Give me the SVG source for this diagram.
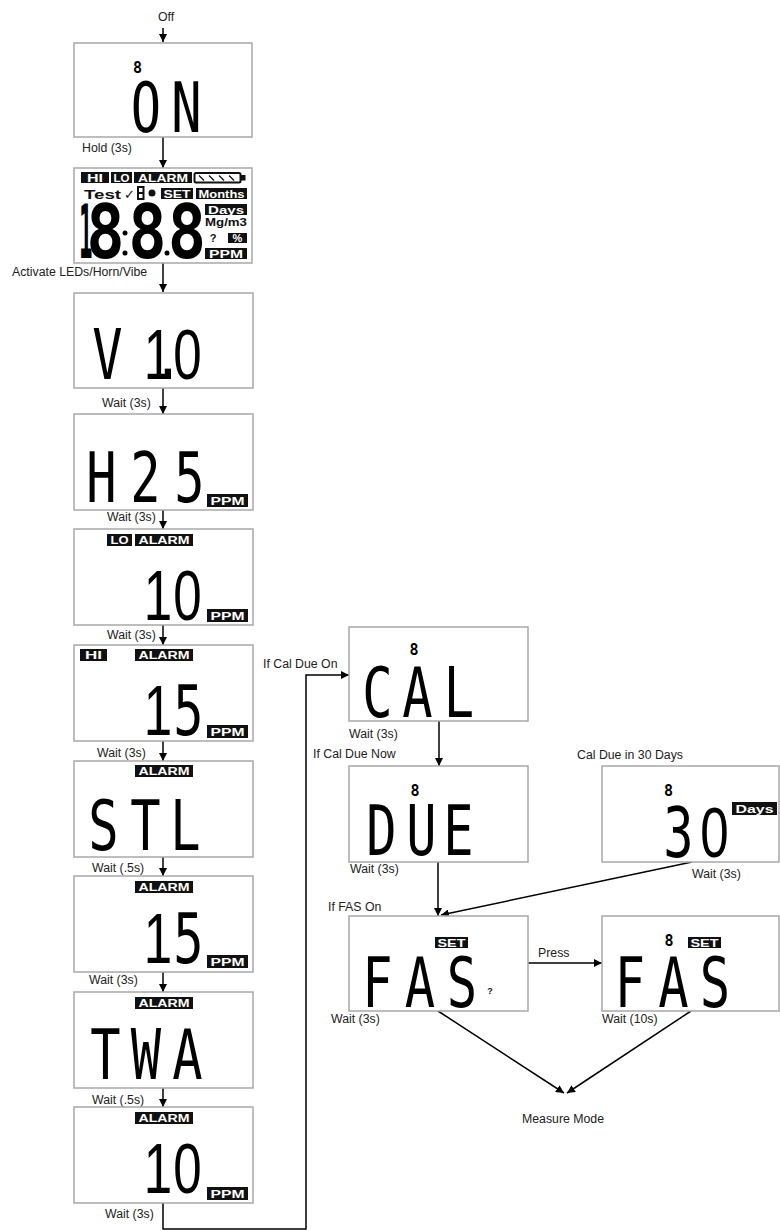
<svg xmlns="http://www.w3.org/2000/svg" width="780" height="1231" viewBox="0 0 780 1231">
<style>
.bg{fill:#fff}
.box{fill:#fff;stroke:#a8a8a8;stroke-width:1.5}
.lb{fill:#111}
.lt{font-family:"Liberation Sans",Arial,sans-serif;font-weight:bold;font-size:11px;fill:#fff;text-anchor:middle}
.bt{font-family:"Liberation Sans",Arial,sans-serif;font-weight:bold;fill:#111}
.cap{font-family:"Liberation Sans",Arial,sans-serif;font-size:12.3px;fill:#222}
.mid{text-anchor:middle}
.seg{font-family:"DejaVu Sans Mono",monospace;font-size:70px;fill:#000;text-anchor:middle}
.d{font-family:"Liberation Sans",Arial,sans-serif;font-size:71px}
.big{font-family:"DejaVu Sans Mono",monospace;font-weight:bold;font-size:75px;fill:#000;text-anchor:middle}
.ind{font-family:"DejaVu Sans Mono",monospace;font-weight:bold;font-size:15px;fill:#000;text-anchor:middle}
.edge{stroke:#000;stroke-width:1.5;fill:none;marker-end:url(#ah)}
</style>
<defs>
<marker id="ah" viewBox="0 0 8 8" refX="8" refY="4" markerWidth="8" markerHeight="8" markerUnits="userSpaceOnUse" orient="auto">
<path d="M0,0 L8,4 L0,8 z" fill="#000"/>
</marker>
</defs>
<rect class="bg" x="0" y="0" width="780" height="1231"/>

<g id="connectors">
<path class="edge" d="M163,28 V42"/>
<path class="edge" d="M163,137 V168"/>
<path class="edge" d="M163,263 V292"/>
<path class="edge" d="M163,388 V414"/>
<path class="edge" d="M163,510 V529"/>
<path class="edge" d="M163,625 V645"/>
<path class="edge" d="M163,741 V761"/>
<path class="edge" d="M163,857 V876"/>
<path class="edge" d="M163,972 V992"/>
<path class="edge" d="M163,1088 V1107"/>
<path class="edge" d="M163,1203 V1229 H306 V675 H349"/>
<path class="edge" d="M439,721 V766"/>
<path class="edge" d="M438,862 V916"/>
<path class="edge" d="M692,862 L441,915"/>
<path class="edge" d="M528,963 H602"/>
<path class="edge" d="M438,1011 L564,1093"/>
<path class="edge" d="M691,1011 L567,1093"/>
</g>

<g id="labels">
<text class="cap mid" x="166" y="21">Off</text>
<text class="cap" x="82" y="152">Hold (3s)</text>
<text class="cap" x="12" y="276">Activate LEDs/Horn/Vibe</text>
<text class="cap" x="102" y="407">Wait (3s)</text>
<text class="cap" x="107" y="521">Wait (3s)</text>
<text class="cap" x="107" y="639">Wait (3s)</text>
<text class="cap" x="97" y="757">Wait (3s)</text>
<text class="cap" x="92" y="872">Wait (.5s)</text>
<text class="cap" x="89" y="984">Wait (3s)</text>
<text class="cap" x="92" y="1104">Wait (.5s)</text>
<text class="cap" x="105" y="1218">Wait (3s)</text>
<text class="cap" x="263" y="668">If Cal Due On</text>
<text class="cap" x="349" y="738">Wait (3s)</text>
<text class="cap" x="313" y="758">If Cal Due Now</text>
<text class="cap mid" x="630" y="759">Cal Due in 30 Days</text>
<text class="cap" x="350" y="873">Wait (3s)</text>
<text class="cap" x="692" y="878">Wait (3s)</text>
<text class="cap" x="328" y="911">If FAS On</text>
<text class="cap" x="538" y="957">Press</text>
<text class="cap" x="331" y="1023">Wait (3s)</text>
<text class="cap" x="602" y="1023">Wait (10s)</text>
<text class="cap mid" x="563" y="1123">Measure Mode</text>
</g>

<g id="n-on">
<rect class="box" x="74" y="43" width="178" height="94"/>
<text class="ind" x="137.5" y="73">8</text>
<text class="seg" transform="scale(0.72,1)" x="202.78 259.03" y="132">ON</text>
</g>

<g id="n-test">
<rect class="box" x="74" y="168" width="178" height="95"/>
<rect class="lb" x="81" y="172" width="28" height="11"/><text class="lt" x="95" y="181.5" textLength="16" lengthAdjust="spacingAndGlyphs">HI</text>
<rect class="lb" x="111" y="172" width="21" height="11"/><text class="lt" x="121.5" y="181.5" textLength="16" lengthAdjust="spacingAndGlyphs">LO</text>
<rect class="lb" x="134" y="172" width="58" height="11"/><text class="lt" x="163" y="181.5" textLength="50" lengthAdjust="spacingAndGlyphs">ALARM</text>
<rect x="194.5" y="173" width="46" height="9.5" rx="1.5" fill="#fff" stroke="#111" stroke-width="2"/>
<rect x="240.5" y="175" width="5" height="5.5" fill="#111"/>
<path d="M199,175.5 l5,5 M209,175.5 l5,5 M219,175.5 l5,5 M229,175.5 l5,5" stroke="#111" stroke-width="1.3"/>
<text class="bt" x="84" y="198.5" font-size="13" textLength="37" lengthAdjust="spacingAndGlyphs">Test</text>
<text x="124" y="199" font-family="DejaVu Sans,sans-serif" font-size="13" fill="#111">✓</text>
<rect x="137" y="186" width="7.5" height="14" fill="#111"/>
<rect x="139" y="188" width="3.5" height="4" fill="#fff"/>
<rect x="139" y="194" width="3.5" height="4" fill="#fff"/>
<circle cx="152" cy="193" r="3.5" fill="#111"/>
<rect class="lb" x="161" y="188" width="32" height="11"/><text class="lt" x="177" y="197.5" textLength="27" lengthAdjust="spacingAndGlyphs">SET</text>
<rect class="lb" x="196" y="188" width="51" height="11"/><text class="lt" x="221.5" y="197.5" textLength="46" lengthAdjust="spacingAndGlyphs">Months</text>
<text class="big" transform="scale(0.3,1)" x="286" y="258">1</text>
<text class="big" transform="scale(0.85,1)" x="124.12 173.53 220" y="258">888</text>
<circle cx="125" cy="233" r="2.5" fill="#000"/>
<circle cx="125" cy="253" r="2.5" fill="#000"/>
<circle cx="167" cy="253" r="2.5" fill="#000"/>
<rect class="lb" x="205" y="204" width="42" height="11"/><text class="lt" x="226" y="213.5" textLength="36" lengthAdjust="spacingAndGlyphs">Days</text>
<text class="bt mid" x="226" y="226" font-size="11" textLength="42" lengthAdjust="spacingAndGlyphs">Mg/m3</text>
<text class="bt mid" x="213" y="242" font-size="11">?</text>
<rect class="lb" x="228" y="233" width="19" height="10"/><text class="lt" x="237.5" y="241.5" font-size="9">%</text>
<rect class="lb" x="205" y="248" width="42" height="11"/><text class="lt" x="226" y="257.5" textLength="34" lengthAdjust="spacingAndGlyphs">PPM</text>
</g>

<g id="n-v10">
<rect class="box" x="74" y="293" width="179" height="95"/>
<text class="seg" transform="scale(0.72,1)" x="149.31 219.44 233.33 260.42" y="379">V<tspan class="d">1</tspan>.<tspan class="d">0</tspan></text>
</g>

<g id="n-h25">
<rect class="box" x="74" y="414" width="179" height="96"/>
<text class="seg" transform="scale(0.72,1)" x="140.97 202.08 263.19" y="502">H25</text>
<rect class="lb" x="207" y="494" width="41" height="13"/><text class="lt" x="227.5" y="504.5" textLength="34" lengthAdjust="spacingAndGlyphs">PPM</text>
</g>

<g id="n-lo10">
<rect class="box" x="74" y="529" width="179" height="96"/>
<rect class="lb" x="107" y="534" width="25" height="12"/><text class="lt" x="119.5" y="544" textLength="18" lengthAdjust="spacingAndGlyphs">LO</text>
<rect class="lb" x="135" y="534" width="58" height="12"/><text class="lt" x="164" y="544" textLength="51" lengthAdjust="spacingAndGlyphs">ALARM</text>
<text class="seg d" transform="scale(0.72,1)" x="219.44 260.42" y="620">10</text>
<rect class="lb" x="207" y="609" width="41" height="13"/><text class="lt" x="227.5" y="619.5" textLength="34" lengthAdjust="spacingAndGlyphs">PPM</text>
</g>

<g id="n-hi15">
<rect class="box" x="74" y="645" width="179" height="96"/>
<rect class="lb" x="80" y="649" width="27" height="12"/><text class="lt" x="93.5" y="659" textLength="17" lengthAdjust="spacingAndGlyphs">HI</text>
<rect class="lb" x="135" y="649" width="58" height="12"/><text class="lt" x="164" y="659" textLength="51" lengthAdjust="spacingAndGlyphs">ALARM</text>
<text class="seg" transform="scale(0.72,1)" x="219.44 261.81" y="735"><tspan class="d">1</tspan>5</text>
<rect class="lb" x="207" y="725" width="41" height="13"/><text class="lt" x="227.5" y="735.5" textLength="34" lengthAdjust="spacingAndGlyphs">PPM</text>
</g>

<g id="n-stl">
<rect class="box" x="74" y="761" width="179" height="96"/>
<rect class="lb" x="135" y="765" width="58" height="12"/><text class="lt" x="164" y="775" textLength="51" lengthAdjust="spacingAndGlyphs">ALARM</text>
<text class="seg" transform="scale(0.72,1)" x="143.75 202.08 257.64" y="850">STL</text>
</g>

<g id="n-a15">
<rect class="box" x="74" y="876" width="179" height="96"/>
<rect class="lb" x="135" y="881" width="58" height="12"/><text class="lt" x="164" y="891" textLength="51" lengthAdjust="spacingAndGlyphs">ALARM</text>
<text class="seg" transform="scale(0.72,1)" x="219.44 261.81" y="963"><tspan class="d">1</tspan>5</text>
<rect class="lb" x="207" y="955" width="41" height="13"/><text class="lt" x="227.5" y="965.5" textLength="34" lengthAdjust="spacingAndGlyphs">PPM</text>
</g>

<g id="n-twa">
<rect class="box" x="74" y="992" width="179" height="96"/>
<rect class="lb" x="135" y="997" width="58" height="12"/><text class="lt" x="164" y="1007" textLength="51" lengthAdjust="spacingAndGlyphs">ALARM</text>
<text class="seg" transform="scale(0.72,1)" x="146.53 202.78 260.42" y="1079">TWA</text>
</g>

<g id="n-a10">
<rect class="box" x="74" y="1107" width="179" height="96"/>
<rect class="lb" x="135" y="1112" width="58" height="12"/><text class="lt" x="164" y="1122" textLength="51" lengthAdjust="spacingAndGlyphs">ALARM</text>
<text class="seg d" transform="scale(0.72,1)" x="219.44 260.42" y="1193">10</text>
<rect class="lb" x="207" y="1187" width="41" height="13"/><text class="lt" x="227.5" y="1197.5" textLength="34" lengthAdjust="spacingAndGlyphs">PPM</text>
</g>

<g id="n-cal">
<rect class="box" x="349" y="627" width="179" height="94"/>
<text class="ind" x="414" y="655">8</text>
<text class="seg" transform="scale(0.72,1)" x="524.31 579.86 637.5" y="717">CAL</text>
</g>

<g id="n-due">
<rect class="box" x="349" y="766" width="179" height="96"/>
<text class="ind" x="415" y="796">8</text>
<text class="seg" transform="scale(0.72,1)" x="529.86 585.42 636.81" y="855">DUE</text>
</g>

<g id="n-30">
<rect class="box" x="602" y="766" width="177" height="96"/>
<text class="ind" x="668.5" y="796">8</text>
<text class="seg" transform="scale(0.72,1)" x="942.36 992.36" y="857">3<tspan class="d">0</tspan></text>
<rect class="lb" x="732" y="802" width="45" height="13"/><text class="lt" x="754.5" y="812.5" textLength="38" lengthAdjust="spacingAndGlyphs">Days</text>
</g>

<g id="n-fas1">
<rect class="box" x="349" y="916" width="179" height="95"/>
<rect class="lb" x="435" y="937" width="33" height="11"/><text class="lt" x="451.5" y="946.5" textLength="28" lengthAdjust="spacingAndGlyphs">SET</text>
<text class="seg" transform="scale(0.72,1)" x="524.31 583.33 641.67" y="1007">FAS</text>
<text class="bt mid" x="490" y="994" font-size="9">?</text>
</g>

<g id="n-fas2">
<rect class="box" x="602" y="916" width="177" height="95"/>
<text class="ind" x="669" y="946">8</text>
<rect class="lb" x="688" y="937" width="33" height="11"/><text class="lt" x="704.5" y="946.5" textLength="28" lengthAdjust="spacingAndGlyphs">SET</text>
<text class="seg" transform="scale(0.72,1)" x="875 935.42 993.06" y="1007">FAS</text>
</g>
</svg>
